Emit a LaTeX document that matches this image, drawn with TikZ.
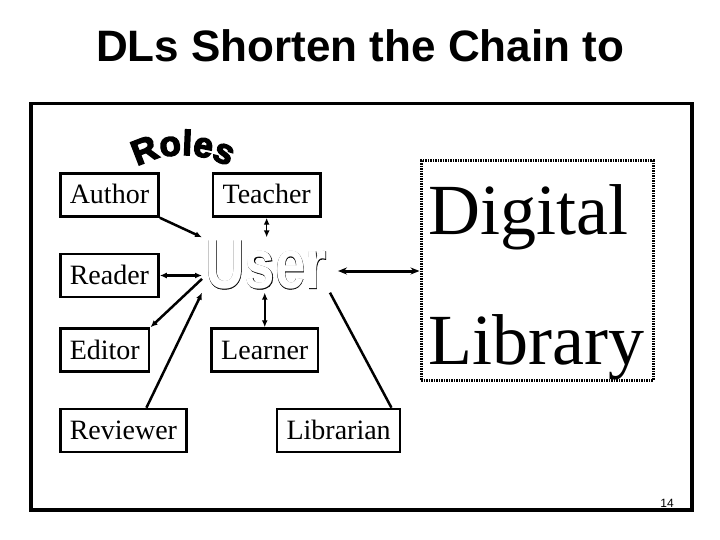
\documentclass[tikz,border=0pt]{standalone}
\usepackage{fontspec}
\setmainfont{Liberation Serif}
\setsansfont{Liberation Sans}
\newfontfamily\heavysans{Liberation Sans}[FakeBold=0.8]
\newfontfamily\roleswordart{Liberation Sans}[FakeBold=4]
\usetikzlibrary{positioning, arrows.meta, calc, decorations.text}

\newcommand\rolesfont{\roleswordart\bfseries\fontsize{35}{35}\selectfont}
\newcommand\outlined[1]{\makebox[0pt][l]{\heavysans\bfseries #1}{\color{white}\sffamily\bfseries #1}}

\tikzset{
  role/.style = {draw, line width=2.5pt, minimum height=43pt, inner xsep=9.5pt,
                 text height=19pt, text depth=1pt, font=\fontsize{28}{28}\selectfont},
  dlbox/.style = {draw, line width=3pt, dash pattern=on 1.5pt off 1pt,
                  minimum width=232pt, minimum height=219pt},
  dltext/.style = {font=\fontsize{72}{72}\selectfont, inner sep=0pt, anchor=base west},
}

\begin{document}
\begin{tikzpicture}[> = {Latex[length=7pt,width=6pt]}, x=1pt, y=-1pt, line width=2.5pt]
    \useasboundingbox (0,0) rectangle (720,540);
    \node[font=\sffamily\bfseries\fontsize{44}{44}\selectfont, anchor=base] (title) at (360,62) {DLs Shorten the Chain to};
    \draw[line width=3.5pt] (31,103.5) rectangle (692,510);

    % word art over the roles
    \path[decorate, decoration={text along path, text align=center, text={|\rolesfont|Roles}}]
      (183,250) ++(240:95) arc[start angle=240, end angle=300, radius=95];

    \node[role, anchor=west] (author) at (59,195) {Author};
    \node[role, below=35pt of author.south west, anchor=north west] (reader) {Reader};
    \node[role, below=29pt of reader.south west, anchor=north west] (editor) {Editor};
    \node[role, below=35pt of editor.south west, anchor=north west] (reviewer) {Reviewer};
    \node[role, right=52pt of author] (teacher) {Teacher};
    \node[role, right=60pt of editor] (learner) {Learner};
    \node[role, right=88pt of reviewer] (librarian) {Librarian};

    \node[inner sep=2pt] (user) at (266,265)
      {\scalebox{0.78}[1]{\fontsize{70}{70}\selectfont\outlined{User}}};

    \node[dlbox] (dl) at (537,270.5) {};
    \node[dltext] (digital) at (427,235) {Digital};
    \node[dltext] (library) at (427,364) {Library};

    \draw[->] (author.south east) -- (user.north west);
    \draw[<->, line width=1.5pt] (teacher) -- (teacher |- user.north);
    \draw[<->] (reader) -- (reader -| user.west);
    \draw[->] ($(user.west)!.5!(user.south west)$) -- (editor.north east);
    \draw[->] ($(reviewer.north)+(23,0)$) -- (user.south west);
    \draw[<->, line width=1.5pt] (learner) -- (learner |- user.south);
    \draw (user.south east) -- ($(librarian.north east)+(-10,0)$);
    \draw[<->, >={Stealth[length=9pt,width=7pt]}, line width=3pt]
      ($(user.east)+(8,6)$) coordinate (ue) -- (ue -| dl.west);

    \node[font=\sffamily\fontsize{12}{12}\selectfont, anchor=base] (pagenum) at (667,507) {14};
\end{tikzpicture}
\end{document}
